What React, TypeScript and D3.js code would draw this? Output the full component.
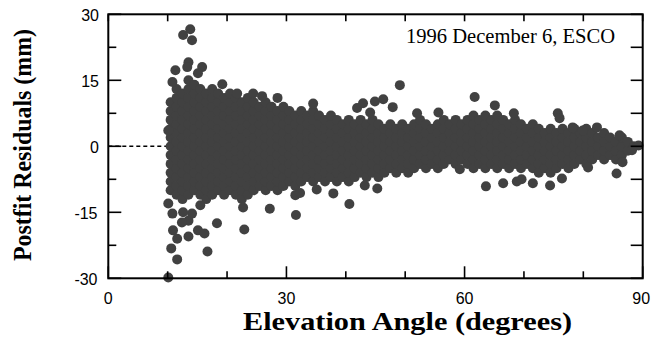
import React from "react";
import * as d3 from "d3";

// Axis ticks
const xMajorTicks = [0, 30, 60, 90];
const xMinorTicks = [10, 20, 40, 50, 70, 80];
const yMajorTicks = [-30, -15, 0, 15, 30];
const yMinorTicks = [-22.5, -7.5, 7.5, 22.5];

const xTitle = "Elevation Angle (degrees)";
const yTitle = "Postfit Residuals (mm)";
const annotation = "1996 December 6, ESCO";

// Dense band of residuals, read column by column: [elevation, residuals (mm)]
const bandLow: [number, number[]][] = [
  [10.5, [-10, -8, -6, -4, -2, 0, 2, 4, 6, 8, 10]],
  [11.5, [-11, -9, -7, -5, -3, -1, 1, 3, 5, 7, 9, 11, 13]],
  [12.5, [-12, -10, -8, -6, -4, -2, 0, 2, 4, 6, 8, 10, 12]],
  [13.5, [-11, -9, -7, -5, -3, -1, 1, 3, 5, 7, 9, 11, 13, 15]],
  [14.5, [-10, -8, -6, -4, -2, 0, 2, 4, 6, 8, 10, 12, 14]],
  [15.5, [-11, -9, -7, -5, -3, -1, 1, 3, 5, 7, 9, 11, 13]],
  [16.5, [-12, -10, -8, -6, -4, -2, 0, 2, 4, 6, 8, 10, 12]],
  [17.5, [-11, -9, -7, -5, -3, -1, 1, 3, 5, 7, 9, 11, 13]],
  [18.5, [-10, -8, -6, -4, -2, 0, 2, 4, 6, 8, 10, 12]],
  [19.5, [-11, -9, -7, -5, -3, -1, 1, 3, 5, 7, 9, 11]],
  [20.5, [-10, -8, -6, -4, -2, 0, 2, 4, 6, 8, 10, 12]],
  [21.5, [-11, -9, -7, -5, -3, -1, 1, 3, 5, 7, 9, 11]],
  [22.5, [-12, -10, -8, -6, -4, -2, 0, 2, 4, 6, 8, 10]],
  [23.5, [-11, -9, -7, -5, -3, -1, 1, 3, 5, 7, 9, 11]],
  [24.5, [-10, -8, -6, -4, -2, 0, 2, 4, 6, 8, 10]],
  [25.5, [-9, -7, -5, -3, -1, 1, 3, 5, 7, 9]],
  [26.5, [-10, -8, -6, -4, -2, 0, 2, 4, 6, 8, 10]],
  [27.5, [-9, -7, -5, -3, -1, 1, 3, 5, 7, 9]],
  [28.5, [-10, -8, -6, -4, -2, 0, 2, 4, 6, 8]],
  [29.5, [-9, -7, -5, -3, -1, 1, 3, 5, 7, 9]],
];

const bandMid: [number, number[]][] = [
  [30.5, [-8, -6, -4, -2, 0, 2, 4, 6, 8]],
  [31.5, [-9, -7, -5, -3, -1, 1, 3, 5, 7]],
  [32.5, [-8, -6, -4, -2, 0, 2, 4, 6, 8]],
  [33.5, [-7, -5, -3, -1, 1, 3, 5, 7]],
  [34.5, [-8, -6, -4, -2, 0, 2, 4, 6, 8]],
  [35.5, [-7, -5, -3, -1, 1, 3, 5, 7]],
  [36.5, [-8, -6, -4, -2, 0, 2, 4, 6]],
  [37.5, [-7, -5, -3, -1, 1, 3, 5, 7]],
  [38.5, [-8, -6, -4, -2, 0, 2, 4, 6]],
  [39.5, [-7, -5, -3, -1, 1, 3, 5]],
  [40.5, [-8, -6, -4, -2, 0, 2, 4, 6]],
  [41.5, [-7, -5, -3, -1, 1, 3, 5]],
  [42.5, [-6, -4, -2, 0, 2, 4, 6]],
  [43.5, [-7, -5, -3, -1, 1, 3, 5]],
  [44.5, [-6, -4, -2, 0, 2, 4, 6]],
  [45.5, [-7, -5, -3, -1, 1, 3, 5]],
  [46.5, [-6, -4, -2, 0, 2, 4]],
  [47.5, [-5, -3, -1, 1, 3, 5]],
  [48.5, [-6, -4, -2, 0, 2, 4]],
  [49.5, [-5, -3, -1, 1, 3, 5]],
  [50.5, [-6, -4, -2, 0, 2, 4]],
  [51.5, [-5, -3, -1, 1, 3, 5]],
  [52.5, [-4, -2, 0, 2, 4, 6]],
  [53.5, [-5, -3, -1, 1, 3, 5]],
  [54.5, [-4, -2, 0, 2, 4]],
  [55.5, [-5, -3, -1, 1, 3, 5]],
  [56.5, [-4, -2, 0, 2, 4, 6]],
  [57.5, [-3, -1, 1, 3, 5]],
  [58.5, [-4, -2, 0, 2, 4, 6]],
  [59.5, [-3, -1, 1, 3, 5]],
];

const bandHigh: [number, number[]][] = [
  [60.5, [-4, -2, 0, 2, 4, 6]],
  [61.5, [-5, -3, -1, 1, 3, 5, 7]],
  [62.5, [-4, -2, 0, 2, 4, 6]],
  [63.5, [-5, -3, -1, 1, 3, 5, 7]],
  [64.5, [-4, -2, 0, 2, 4, 6]],
  [65.5, [-5, -3, -1, 1, 3, 5, 7]],
  [66.5, [-4, -2, 0, 2, 4, 6]],
  [67.5, [-5, -3, -1, 1, 3, 5]],
  [68.5, [-4, -2, 0, 2, 4, 6]],
  [69.5, [-5, -3, -1, 1, 3, 5]],
  [70.5, [-4, -2, 0, 2, 4]],
  [71.5, [-5, -3, -1, 1, 3, 5]],
  [72.5, [-6, -4, -2, 0, 2, 4]],
  [73.5, [-5, -3, -1, 1, 3]],
  [74.5, [-6, -4, -2, 0, 2, 4]],
  [75.5, [-5, -3, -1, 1, 3]],
  [76.5, [-4, -2, 0, 2, 4]],
  [77.5, [-5, -3, -1, 1, 3]],
  [78.5, [-4, -2, 0, 2, 4]],
  [79.5, [-3, -1, 1, 3]],
  [80.5, [-4, -2, 0, 2, 4]],
  [81.5, [-3, -1, 1, 3]],
  [82.5, [-2, 0, 2]],
  [83.5, [-3, -1, 1, 3]],
  [84.5, [-2, 0, 2]],
  [85.5, [-3, -1, 1]],
  [86.5, [-2, 0, 2]],
  [87.5, [-1, 1]],
  [88.5, [0]],
];

// Scattered points outside the dense band: [elevation, residual]
const outliersHigh: [number, number][] = [
  [12.6, 25.3], [13.8, 26.6], [14.1, 24.1],
  [13.5, 19.1], [13.3, 18], [11.3, 17.3], [15.8, 18], [10.8, 14.6], [15.1, 16.6],
  [19.2, 14.1], [21.7, 12], [24.4, 12], [25.9, 11.4], [28.5, 11], [34.5, 9.7],
  [41.9, 8.7], [42.9, 9.8], [44.9, 10.2], [46.3, 10.7], [47.9, 8.9], [44.1, 7.7], [49.1, 13.9],
  [52, 7.5], [55.6, 7.7], [61.7, 11.2], [65.1, 9.3], [68.3, 7.5],
  [75.7, 7.5], [76.0, 6.4], [78.2, 4.3], [79.9, 3.6], [82.3, 4.3], [86.1, 2.5], [89.3, 0.2], [88.2, -0.9],
];

const outliersLow: [number, number][] = [
  [10.1, 3.6], [10.1, -13], [10.8, -15.3], [12.6, -15], [13.5, -16.9], [12.4, -17.3], [14.1, -15.3],
  [10.9, -19.1], [11.6, -21], [13.5, -20.5], [15.1, -19.1], [16.2, -19.8], [18.3, -17.5], [15.5, -13.4],
  [22.9, -18.9], [16.7, -23.9], [10.6, -23.2], [11.6, -25.7], [10.1, -29.8], [22.7, -13.9],
  [27.2, -14.2], [31.6, -15.6], [31.5, -11.1], [32.3, -10.6], [35.1, -9.8], [37.9, -10.7], [40.6, -13.1],
  [45.3, -9.6], [43.2, -8.9],
  [59.2, -5.2], [63.6, -9.1], [66.5, -8.4], [68.8, -8], [69.6, -7.5], [71.5, -8.4],
  [74.4, -8.9], [76.4, -7.3], [80.8, -4.8], [85.6, -6.2], [86.6, -3.6],
];

const W = 652;
const H = 356;
const LEFT = 108.3;
const RIGHT = 642.7;
const TOP = 14.3;
const BOTTOM = 278.3;

export default function App() {
  const x = d3.scaleLinear().domain([0, 90]).range([LEFT, RIGHT]);
  const y = d3.scaleLinear().domain([-30, 30]).range([BOTTOM, TOP]);

  const points: [number, number][] = [];
  [...bandLow, ...bandMid, ...bandHigh].forEach(([e, rs]) => rs.forEach((r) => points.push([e, r])));
  outliersHigh.forEach((p) => points.push(p));
  outliersLow.forEach((p) => points.push(p));

  const sans = "'Liberation Sans', Arial, sans-serif";
  const serif = "'Liberation Serif', 'Times New Roman', serif";
  const axisColor = "#000";

  return (
    <svg
      width={W}
      height={H}
      viewBox={`0 0 ${W} ${H}`}
      style={{ position: "absolute", left: 0, top: 0, background: "#fff" }}
    >
      <rect x={0} y={0} width={W} height={H} fill="#fff" />
      {/* zero reference line */}
      <line
        x1={x(0)}
        x2={x(90)}
        y1={y(0)}
        y2={y(0)}
        stroke="#000"
        strokeWidth={1.4}
        strokeDasharray="4,3"
      />
      {/* points */}
      <g fill="#414141">
        {points.map(([e, r], i) => (
          <circle key={i} cx={x(e)} cy={y(r)} r={5} />
        ))}
      </g>
      {/* frame */}
      <rect
        x={LEFT}
        y={TOP}
        width={RIGHT - LEFT}
        height={BOTTOM - TOP}
        fill="none"
        stroke={axisColor}
        strokeWidth={2}
      />
      {/* ticks */}
      <g stroke={axisColor} strokeWidth={1.6}>
        {yMajorTicks.map((t) => (
          <line key={"lm" + t} x1={LEFT} x2={LEFT + 13} y1={y(t)} y2={y(t)} />
        ))}
        {yMinorTicks.map((t) => (
          <line key={"ln" + t} x1={LEFT} x2={LEFT + 8} y1={y(t)} y2={y(t)} />
        ))}
        {[...yMajorTicks, ...yMinorTicks].map((t) => (
          <line key={"r" + t} x1={RIGHT} x2={RIGHT - 12} y1={y(t)} y2={y(t)} />
        ))}
        {xMajorTicks.map((t) => (
          <line key={"bm" + t} x1={x(t)} x2={x(t)} y1={BOTTOM} y2={BOTTOM - 12} />
        ))}
        {xMinorTicks.map((t) => (
          <line key={"bn" + t} x1={x(t)} x2={x(t)} y1={BOTTOM} y2={BOTTOM - 7} />
        ))}
        {[...xMajorTicks, ...xMinorTicks].map((t) => (
          <line key={"t" + t} x1={x(t)} x2={x(t)} y1={TOP} y2={TOP + 7} />
        ))}
      </g>
      {/* tick labels */}
      <g fontFamily={sans} fontSize={16} fill="#000">
        {yMajorTicks.map((t) => (
          <text key={"yl" + t} x={t < 0 ? 97.5 : 99} y={y(t) + 6.5} textAnchor="end">
            {t}
          </text>
        ))}
        {xMajorTicks.map((t) => (
          <text key={"xl" + t} x={x(t) - (t === 90 ? 1.5 : 0)} y={304} textAnchor="middle">
            {t}
          </text>
        ))}
      </g>
      {/* annotation */}
      <text
        x={406}
        y={43}
        fontFamily={serif}
        fontSize={20}
        textLength={209}
        lengthAdjust="spacingAndGlyphs"
        fill="#000"
      >
        {annotation}
      </text>
      {/* axis titles */}
      <text
        x={407.5}
        y={330}
        fontFamily={serif}
        fontWeight="bold"
        fontSize={26}
        textAnchor="middle"
        textLength={329}
        lengthAdjust="spacingAndGlyphs"
        fill="#000"
      >
        {xTitle}
      </text>
      <text
        transform={`translate(31,145) rotate(-90)`}
        fontFamily={serif}
        fontWeight="bold"
        fontSize={26}
        textAnchor="middle"
        textLength={232}
        lengthAdjust="spacingAndGlyphs"
        fill="#000"
      >
        {yTitle}
      </text>
    </svg>
  );
}
